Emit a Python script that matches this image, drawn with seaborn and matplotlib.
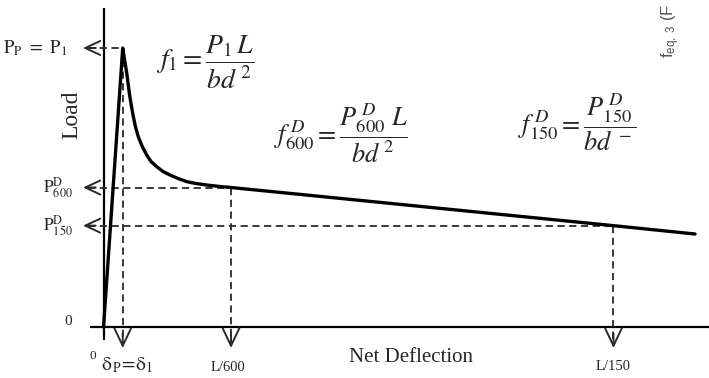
import numpy as np
import pandas as pd
import seaborn as sns
import matplotlib.pyplot as plt

# Load-deflection curve of a fibre-reinforced beam (deflection in mm, load in kN)
deflection = [0.0, 0.113, 0.1235, 0.1365, 0.1441, 0.1518, 0.1618, 0.1753, 0.1882, 0.2047,
              0.2265, 0.2541, 0.2794, 0.3129, 0.350, 0.3912, 0.4382, 0.4894, 0.5441,
              0.6071, 0.6735, 0.75, 3.0, 3.48]
load = [0.0, 30.0, 28.78, 27.31, 26.24, 25.16, 24.0, 22.63, 21.51, 20.46,
        19.46, 18.49, 17.80, 17.24, 16.72, 16.34, 15.97, 15.63, 15.43,
        15.27, 15.13, 15.0, 10.9, 10.0]

# Characteristic points: peak, L/600 and L/150
key_deflection = [0.113, 0.75, 3.0]
key_load = [30.0, 15.0, 10.9]
key_load_labels = [r"$\mathrm{P_P\ =\ P_1}$", r"$\mathrm{P^{D}_{600}}$", r"$\mathrm{P^{D}_{150}}$"]
key_defl_labels = [r"$\mathrm{\delta_{\,P}\!=\!\delta_{1}}$", "L/600", "L/150"]

sns.set_theme(style="white")
plt.rcParams["font.family"] = ["Liberation Serif", "DejaVu Serif"]
plt.rcParams["mathtext.fontset"] = "stix"

fig = plt.figure(figsize=(7.09, 3.78), dpi=100)
ax = fig.add_axes([0, 0, 1, 1])

df = pd.DataFrame({"deflection": deflection, "load": load})
sns.lineplot(data=df, x="deflection", y="load", sort=False, estimator=None,
             color="black", lw=2.4, ax=ax, zorder=5)
ax.lines[-1].set_solid_joinstyle("round")

ax.set_xlim(-0.609, 3.562)
ax.set_ylim(-5.48, 35.16)
ax.axis("off")

# Axes drawn as plain lines through the origin
ax.plot([-0.079, 3.562], [0, 0], color="black", lw=1.6, solid_capstyle="butt")
ax.plot([0, 0], [-1.4, 34.3], color="black", lw=1.6, solid_capstyle="butt")

# Dashed guides with open arrow heads
arrow_x = -0.121
arrow_y = -2.26
dash = (0, (4, 2.5))
guide_col = "#2a2a2a"
for xk, yk in zip(key_deflection, key_load):
    ax.plot([arrow_x + 0.03, xk], [yk, yk], ls=dash, color=guide_col, lw=1.3)
    ax.plot([xk, xk], [yk, arrow_y + 0.5], ls=dash, color=guide_col, lw=1.3)
    ax.annotate("", xy=(arrow_x, yk), xytext=(arrow_x + 0.075, yk),
                arrowprops=dict(arrowstyle="->,head_length=0.9,head_width=0.42",
                                lw=1.4, color=guide_col, shrinkA=0, shrinkB=0))
    ax.annotate("", xy=(xk, arrow_y), xytext=(xk, arrow_y + 1.6),
                arrowprops=dict(arrowstyle="->,head_length=1.05,head_width=0.5",
                                lw=1.4, color=guide_col, shrinkA=0, shrinkB=0))

# Load labels on the left
label_x = [-0.215, -0.179, -0.179]
label_size = [13.5, 12.5, 12.5]
for lab, yk, lx, fs in zip(key_load_labels, key_load, label_x, label_size):
    ax.text(lx, yk, lab, ha="right", va="center", fontsize=fs)

# Deflection labels under the axis
ax.text(0.14, -4.15, key_defl_labels[0], ha="center", va="center", fontsize=14)
ax.text(0.732, -4.3, key_defl_labels[1], ha="center", va="center", fontsize=10.5)
ax.text(2.997, -4.2, key_defl_labels[2], ha="center", va="center", fontsize=10.5)

ax.text(-0.209, 0.55, "0", ha="center", va="center", fontsize=11)
ax.text(-0.062, -3.1, "0", ha="center", va="center", fontsize=9.5)

ax.text(-0.185, 22.8, "Load", rotation=90, ha="center", va="center", fontsize=17)
ax.text(1.809, -3.25, "Net Deflection", ha="center", va="center", fontsize=15)

# Flexural strength definitions
ax.text(0.6, 28.5, r"$f_{1}=\dfrac{P_{1}\,L}{bd^{\,2}}$", ha="center", va="center", fontsize=20)
ax.text(1.397, 20.86, r"$f^{\,D}_{600}=\dfrac{P^{\,D}_{600}\ L}{bd^{\,2}}$", ha="center", va="center", fontsize=19)
ax.text(2.79, 22.0, r"$f^{\,D}_{150}=\dfrac{P^{\,D}_{150}}{bd^{\,-}}$", ha="center", va="center", fontsize=19)

# Vertical side note at the top right
ax.text(3.34, 28.9, r"f$_{\mathregular{eq,\ 3}}$ (F", rotation=90, ha="center", va="bottom",
        fontsize=12, color="#555555", family=["Liberation Sans", "DejaVu Sans"])

fig.savefig("out.png", dpi=100)
